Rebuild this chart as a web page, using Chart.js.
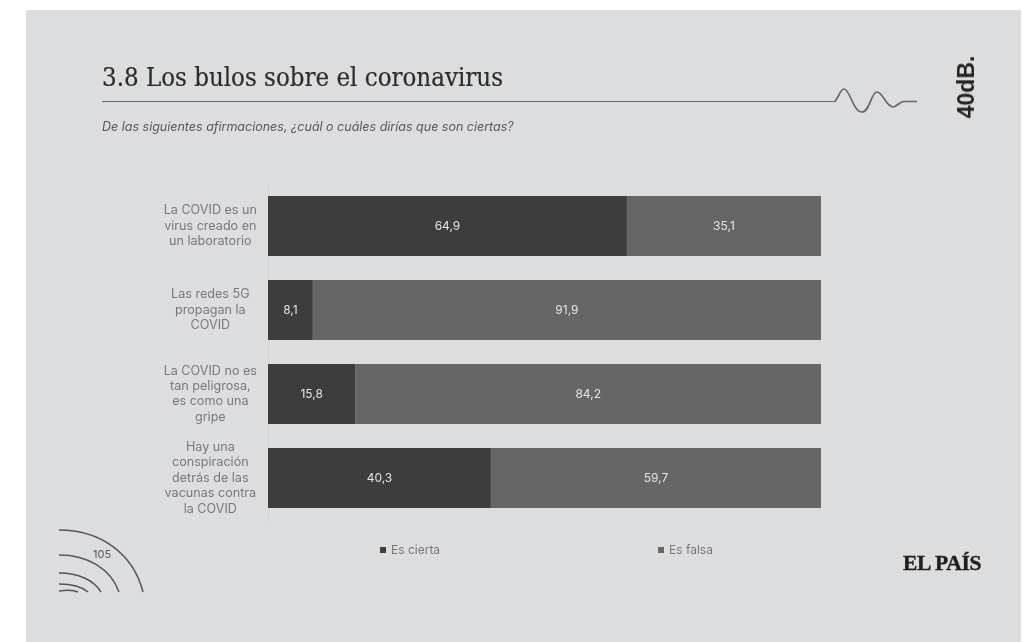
<!DOCTYPE html>
<html lang="es">
<head>
  <meta charset="UTF-8">
  <title>Los bulos sobre el coronavirus</title>
  <script src="https://cdn.jsdelivr.net/npm/chart.js"></script>
  <style>
    body { margin: 0; background: #fff; font-family: Inter, sans-serif; }
    #page { position: relative; width: 1031px; height: 642px; overflow: hidden; }
    #panel { position: absolute; left: 26px; top: 10px; width: 995px; height: 632px; background: #dcdddf; }
    #chart { position: absolute; left: 0; top: 0; }
    #deco { position: absolute; left: 0; top: 0; }
    .txt { position: absolute; white-space: nowrap; }
    #title { left: 102px; top: 59px; font: 25.6px/36px "DejaVu Serif Condensed", "DejaVu Serif", serif; color: #2b2c2d; -webkit-text-stroke: 0.2px #2b2c2d; }
    #subtitle { left: 102px; top: 120px; font: italic 12.5px/14px Inter, sans-serif; color: #55565a; }
    #brand { left: 966px; top: 87px; font: bold 23px/24px "Liberation Sans", sans-serif; color: #222; transform: translate(-50%, -50%) rotate(-90deg); }
    #logo { left: 903px; top: 551px; font: bold 21.5px/24px "Liberation Serif", serif; color: #1f1f20; letter-spacing: -0.3px; -webkit-text-stroke: 0.4px #1f1f20; }
    #page-num { left: 93px; top: 547px; font: 11px/14px Inter, sans-serif; color: #55565a; }
    .legend { position: absolute; top: 543px; font: 12px/14px Inter, sans-serif; color: #77787a; }
    .legend i { display: inline-block; width: 6px; height: 6px; margin-right: 5px; vertical-align: 1px; }
  </style>
</head>
<body>
<div id="page">
  <div id="panel"></div>
  <svg id="deco" width="1031" height="642" fill="none">
    <path d="M102 101.5H835" stroke="#66676a" stroke-width="1.2"/>
    <path d="M835 101.5C840 94 841 89 844 89C850 89 853 112 862 112C870 112 871 92 877 92C883 92 886 107 893 107C897 107 899 101.5 904 101.5H917" stroke="#66676a" stroke-width="1.7"/>
    <path d="M59 530C100 530 133 553 143 592M59 555C88 555 111 569 119 592M59 573C78 573 94 580 101 592M59 584C70 584 81 586 88 592M59 591C65 590 72 589 78 592" stroke="#55565a" stroke-width="1.5"/>
  </svg>
  <canvas id="chart" width="1031" height="642"></canvas>
  <div class="txt" id="title">3.8 Los bulos sobre el coronavirus</div>
  <div class="txt" id="subtitle">De las siguientes afirmaciones, ¿cuál o cuáles dirías que son ciertas?</div>
  <div class="txt" id="brand">40dB.</div>
  <div class="txt" id="logo">EL PAÍS</div>
  <div class="txt" id="page-num">105</div>
  <div id="legend"></div>
</div>

<script>
  const categories = [
    ['La COVID es un', 'virus creado en', 'un laboratorio'],
    ['Las redes 5G', 'propagan la', 'COVID'],
    ['La COVID no es', 'tan peligrosa,', 'es como una', 'gripe'],
    ['Hay una', 'conspiración', 'detrás de las', 'vacunas contra', 'la COVID']
  ];
  const seriesNames = ['Es cierta', 'Es falsa'];
  const seriesColors = ['#3c3d3c', '#666667'];
  const cierta = [64.9, 8.1, 15.8, 40.3];
  const falsa = [35.1, 91.9, 84.2, 59.7];
  const legendLeft = [380, 658];

  // Values inside the bars, with a decimal comma
  const barValues = {
    id: 'barValues',
    afterDatasetsDraw(chart) {
      const ctx = chart.ctx;
      ctx.save();
      ctx.font = '12px Inter, sans-serif';
      ctx.fillStyle = '#e4e4e4';
      ctx.textAlign = 'center';
      ctx.textBaseline = 'middle';
      chart.data.datasets.forEach((ds, i) => {
        chart.getDatasetMeta(i).data.forEach((bar, j) => {
          const mid = (bar.x + bar.base) / 2;
          ctx.fillText(ds.data[j].toFixed(1).replace('.', ','), mid, bar.y);
        });
      });
      ctx.restore();
    }
  };

  new Chart(document.getElementById('chart'), {
    type: 'bar',
    data: {
      labels: categories,
      datasets: [
        { label: seriesNames[0], data: cierta, backgroundColor: seriesColors[0] },
        { label: seriesNames[1], data: falsa, backgroundColor: seriesColors[1] }
      ]
    },
    options: {
      indexAxis: 'y',
      responsive: false,
      animation: false,
      barPercentage: 0.714,
      categoryPercentage: 1,
      layout: { padding: { left: 100, right: 210, top: 184, bottom: 122 } },
      plugins: { legend: { display: false }, tooltip: { enabled: false } },
      scales: {
        x: { stacked: true, min: 0, max: 100, display: false },
        y: {
          stacked: true,
          afterFit(scale) { scale.width = 168; },
          grid: { display: false, drawTicks: false },
          border: { color: '#cdced1' },
          ticks: {
            crossAlign: 'center',
            padding: 11,
            color: '#77787a',
            font: { family: 'Inter, sans-serif', size: 12.6, lineHeight: 1.22 }
          }
        }
      }
    },
    plugins: [barValues]
  });

  // Legend entries sit far apart, so they are laid out by hand
  seriesNames.forEach((name, i) => {
    const el = document.createElement('div');
    el.className = 'legend';
    el.style.left = legendLeft[i] + 'px';
    const swatch = document.createElement('i');
    swatch.style.background = seriesColors[i];
    el.append(swatch, name);
    document.getElementById('legend').append(el);
  });
</script>
</body>
</html>
